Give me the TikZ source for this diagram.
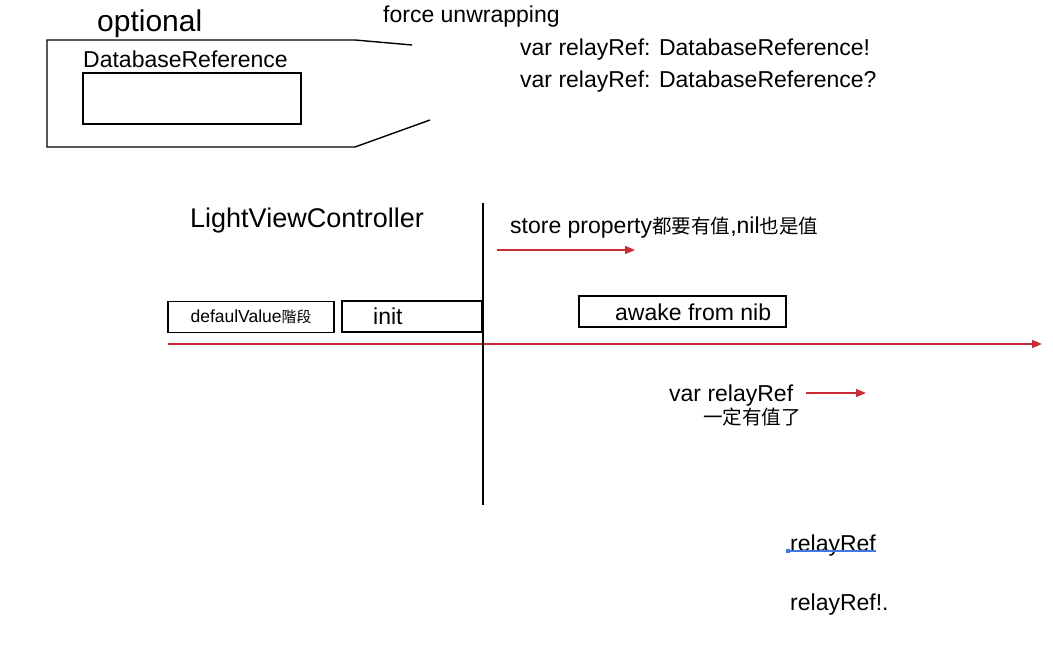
\documentclass[tikz,border=0pt]{standalone}
\usepackage{fontspec}
\setmainfont{Liberation Sans}
\newfontfamily\cjk[Scale=0.85]{Noto Sans CJK SC}
\usetikzlibrary{arrows.meta}
\definecolor{flowred}{RGB}{204,44,56}
\definecolor{cursorblue}{RGB}{66,120,230}
\begin{document}
\begin{tikzpicture}[x=1pt,y=-1pt]
  \useasboundingbox (0,0) rectangle (1053,663);
  % optional wrapper
  \draw[line width=1.4pt] (412,45) -- (355,40) -- (47,40) -- (47,147) -- (355,147) -- (430,120);
  \begin{scope}[every node/.style={anchor=base west,inner sep=0pt,font=\fontsize{23}{26}\selectfont}]
    \node[font=\fontsize{30}{34}\selectfont] (optional) at (97,32) {optional};
    \node (dbref) at (83,68) {DatabaseReference};
    \node (force) at (383,23) {force unwrapping};
    \node (bang) at (520,56) {var relayRef: DatabaseReference!};
    \node (quest) at (520,88) {var relayRef: DatabaseReference?};
    \node[font=\fontsize{27}{30}\selectfont] (lvc) at (190,228) {LightViewController};
    \node (store) at (510,234) {store property{\cjk 都要有值},nil{\cjk 也是值}};
    \node (inittext) at (373,325) {init};
    \node (awaketext) at (615,320) {awake from nib};
    \node (varref) at (669,401) {var relayRef};
    \node (hasvalue) at (703,424) {\cjk 一定有值了};
    \node (ref) at (790,551) {relayRef};
    \node (refbang) at (790,610) {relayRef!.};
  \end{scope}
  \begin{scope}[every node/.style={draw,line width=1.4pt,inner sep=0pt}]
    \node[minimum width=218pt,minimum height=51pt] (dbbox) at (192,98.5) {};
    \node[minimum width=166pt,minimum height=31pt,font=\fontsize{17.5}{20}\selectfont] (defaul) at (251,317) {defaulValue{\cjk 階段}};
    \node[minimum width=140pt,minimum height=31pt] (init) at (412,316.5) {};
    \node[minimum width=207pt,minimum height=31pt] (awake) at (682.5,311.5) {};
  \end{scope}
  \coordinate (top) at (483,203);
  \coordinate (bottom) at (483,505);
  \coordinate (s0) at (497,250);
  \coordinate (s1) at (635,250);
  \coordinate (t0) at (168,344);
  \coordinate (t1) at (1042,344);
  \coordinate (v0) at (806,393);
  \coordinate (v1) at (866,393);
  \coordinate (u0) at (788,551);
  \coordinate (u1) at (876,551);
  \begin{scope}[every edge/.style={draw=flowred,line width=1.4pt,-{Triangle[length=10pt,width=8pt]}}]
    \path (s0) edge (s1);
    \path (t0) edge (t1);
    \path (v0) edge (v1);
  \end{scope}
  \draw[line width=1.4pt] (top) -- (bottom);
  \draw[cursorblue,line width=1.2pt] (u0) -- (u1);
  \fill[cursorblue] (786,549) rectangle (790,553);
\end{tikzpicture}
\end{document}
